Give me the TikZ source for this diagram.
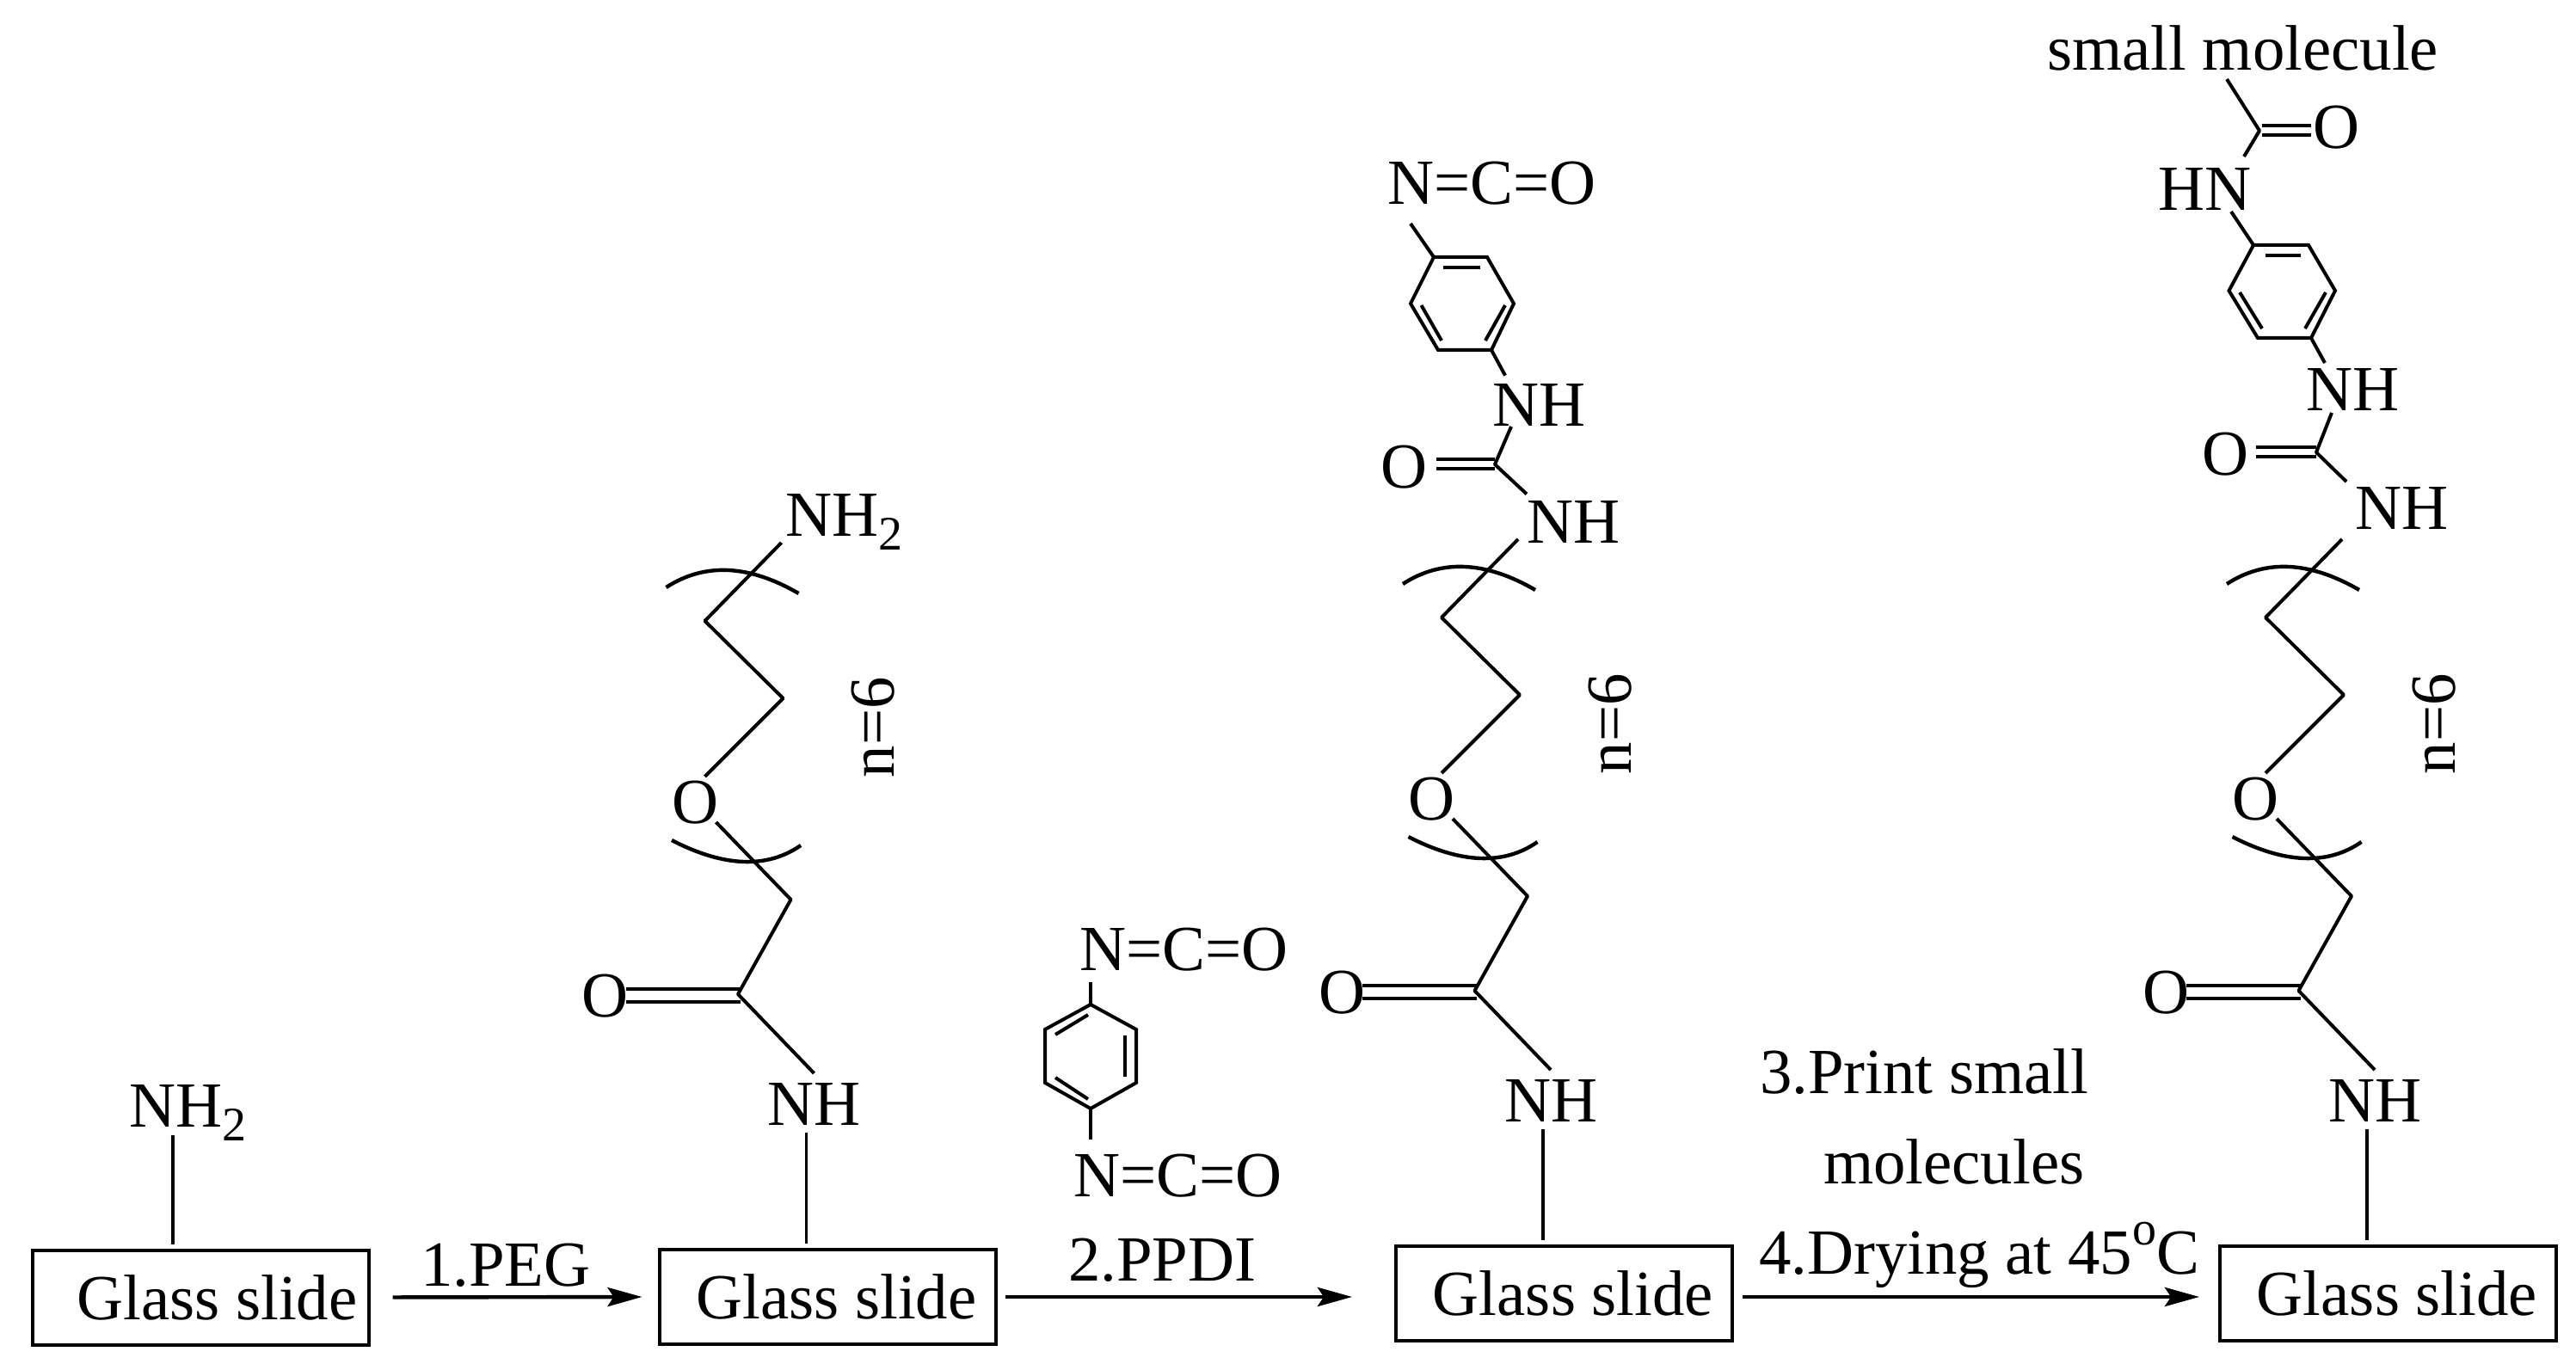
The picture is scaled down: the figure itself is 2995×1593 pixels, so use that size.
\documentclass[tikz,border=0pt]{standalone}
\usepackage{fontspec}
\setmainfont{Liberation Serif}
\usetikzlibrary{arrows.meta}
\tikzset{
  atom/.style={anchor=base west,inner sep=0pt,outer sep=0pt,text=black},
  box/.style={draw=black,line width=2pt,minimum width=195.5pt,minimum height=55pt,inner sep=0pt,outer sep=0pt},
  bond/.style={draw=black,line width=2pt},
  thinbond/.style={draw=black,line width=1.6pt},
  brk/.style={draw=black,line width=2.2pt},
  flow/.style={draw=black,line width=2.2pt,-{Stealth[length=20pt,width=11pt,inset=3.5pt]}}
}
\newcommand{\subtwo}{\raisebox{-8pt}{\fontsize{28pt}{30pt}\selectfont 2}}
\newcommand{\pegarm}[3]{%
\begin{scope}[shift={(#2,#3)}]
  \node[box] (#1box) at (1818.5,1504) {\hspace{10.5pt}Glass slide};
  \node[atom] (#1nh) at (1749,1304) {NH};
  \node[atom] (#1oc) at (1533,1178) {O};
  \node[atom] (#1oe) at (1637.5,953) {O};
  \node[atom,rotate=90] (#1n) at (1896,900) {n=6};
  \coordinate (#1a) at (1794,1313);
  \coordinate (#1c) at (1714.5,1152);
  \coordinate (#1d1) at (1584,1145.6);
  \coordinate (#1d2) at (1717,1145.6);
  \coordinate (#1d3) at (1584,1161);
  \coordinate (#1d4) at (1717,1161);
  \coordinate (#1e) at (1803,1244);
  \coordinate (#1f) at (1776,1042);
  \coordinate (#1g) at (1689,952);
  \coordinate (#1h) at (1676,899);
  \coordinate (#1i) at (1767,808);
  \coordinate (#1j) at (1676,718);
  \coordinate (#1k) at (1765,627);
  \coordinate (#1u0) at (1631,679);
  \coordinate (#1ua) at (1675.7,650);
  \coordinate (#1ub) at (1727,652.3);
  \coordinate (#1u1) at (1785,686);
  \coordinate (#1l0) at (1637.5,973);
  \coordinate (#1la) at (1698.2,1004.3);
  \coordinate (#1lb) at (1748.2,1006.3);
  \coordinate (#1l1) at (1787.5,979);
  \draw[thinbond,shorten >=3.5pt] (#1a) -- (#1a |- #1box.north);
  \draw[bond] (#1d1) -- (#1d2);
  \draw[bond] (#1d3) -- (#1d4);
  \draw[bond,line join=bevel] (#1e) -- (#1c) -- (#1f) -- (#1g);
  \draw[bond,line join=bevel] (#1h) -- (#1i) -- (#1j) -- (#1k);
  \draw[brk] (#1u0) .. controls (#1ua) and (#1ub) .. (#1u1);
  \draw[brk] (#1l0) .. controls (#1la) and (#1lb) .. (#1l1);
\end{scope}}
\begin{document}
\begin{tikzpicture}[x=0.5pt,y=-0.5pt,font=\fontsize{37.4pt}{44pt}\selectfont,line join=miter]
\useasboundingbox (0,0) rectangle (2995,1593);
\fill[white] (0,0) rectangle (2995,1593);

% step 1 : amino slide
\node[box] (b1) at (233,1508.5) {\hspace{19.5pt}Glass slide};
\node[atom] (nh1) at (150,1310) {NH\subtwo};
\coordinate (nh1a) at (201,1320);
\draw[thinbond,shorten >=3.5pt] (nh1a) -- (nh1a |- b1.north);

% arms
\pegarm{m}{-856.5}{4}
\pegarm{p}{0}{0}
\pegarm{q}{958}{0}

% arm 2 end
\node[atom] (m2) at (913,624) {NH\subtwo};

% arm 3 urea and ring
\node[atom] (pnco) at (1613,237.5) {N=C=O};
\node[atom] (pnh2) at (1735,495.5) {NH};
\node[atom] (pnh3) at (1775,632) {NH};
\node[atom] (pco) at (1605.5,568) {O};
\coordinate (pr0) at (1640,260);
\coordinate (pr1) at (1667,299);
\coordinate (pr2) at (1729,299);
\coordinate (pr3) at (1760,353);
\coordinate (pr4) at (1734,407);
\coordinate (pr5) at (1672,407);
\coordinate (pr6) at (1640,353);
\coordinate (pi1) at (1678,311);
\coordinate (pi2) at (1721,311);
\coordinate (pi3) at (1652.5,355);
\coordinate (pi4) at (1676,396);
\coordinate (pi5) at (1750,355);
\coordinate (pi6) at (1727,396);
\coordinate (ps1) at (1750,436.6);
\coordinate (ps2) at (1757,496);
\coordinate (puc) at (1738,540);
\coordinate (ps3) at (1775,574.5);
\coordinate (pd1) at (1670,534);
\coordinate (pd2) at (1738,534);
\coordinate (pd3) at (1670,545);
\coordinate (pd4) at (1738,545);
\draw[bond] (pr0) -- (pr1);
\draw[bond] (pr1) -- (pr2) -- (pr3) -- (pr4) -- (pr5) -- (pr6) -- cycle;
\draw[bond] (pi1) -- (pi2);
\draw[bond] (pi3) -- (pi4);
\draw[bond] (pi5) -- (pi6);
\draw[bond] (pr4) -- (ps1);
\draw[bond,line join=bevel] (ps2) -- (puc) -- (ps3);
\draw[bond] (pd1) -- (pd2);
\draw[bond] (pd3) -- (pd4);

% arm 4 urea, ring, small molecule
\node[atom] (sm) at (2380,82) {small molecule};
\node[atom] (qco1) at (2689.5,173) {O};
\node[atom] (qhn) at (2509,245) {HN};
\node[atom] (qnh2) at (2681,478) {NH};
\node[atom] (qco2) at (2560.5,553) {O};
\node[atom] (qnh3) at (2738,616) {NH};
\coordinate (qa) at (2589,92);
\coordinate (qb) at (2627,152);
\coordinate (qe) at (2609,182);
\coordinate (qf1) at (2630,146);
\coordinate (qf2) at (2687,146);
\coordinate (qf3) at (2630,157);
\coordinate (qf4) at (2687,157);
\coordinate (qr0) at (2594,246);
\coordinate (qr1) at (2620,285);
\coordinate (qr2) at (2684,285);
\coordinate (qr3) at (2715,338);
\coordinate (qr4) at (2687,393);
\coordinate (qr5) at (2625,393);
\coordinate (qr6) at (2591.5,338);
\coordinate (qi1) at (2634,297);
\coordinate (qi2) at (2675,297);
\coordinate (qi3) at (2604,340);
\coordinate (qi4) at (2630,382);
\coordinate (qi5) at (2704,340);
\coordinate (qi6) at (2680,382);
\coordinate (qs1) at (2703,422);
\coordinate (qs2) at (2711,480);
\coordinate (quc) at (2693,526);
\coordinate (qs3) at (2728,560);
\coordinate (qd1) at (2623,520);
\coordinate (qd2) at (2693,520);
\coordinate (qd3) at (2623,531);
\coordinate (qd4) at (2693,531);
\draw[bond,line join=bevel] (qa) -- (qb) -- (qe);
\draw[bond] (qf1) -- (qf2);
\draw[bond] (qf3) -- (qf4);
\draw[bond] (qr0) -- (qr1);
\draw[bond] (qr1) -- (qr2) -- (qr3) -- (qr4) -- (qr5) -- (qr6) -- cycle;
\draw[bond] (qi1) -- (qi2);
\draw[bond] (qi3) -- (qi4);
\draw[bond] (qi5) -- (qi6);
\draw[bond] (qr4) -- (qs1);
\draw[bond,line join=bevel] (qs2) -- (quc) -- (qs3);
\draw[bond] (qd1) -- (qd2);
\draw[bond] (qd3) -- (qd4);

% PPDI reagent
\node[atom] (nco1) at (1255,1128) {N=C=O};
\node[atom] (nco2) at (1248,1391.5) {N=C=O};
\coordinate (ra) at (1268,1142);
\coordinate (r1) at (1268,1168);
\coordinate (r2) at (1321,1197);
\coordinate (r3) at (1321,1259);
\coordinate (r4) at (1268,1289);
\coordinate (r5) at (1215,1259);
\coordinate (r6) at (1215,1197);
\coordinate (rb) at (1268,1324.5);
\coordinate (ri1) at (1227,1203);
\coordinate (ri2) at (1265,1180);
\coordinate (ri3) at (1308,1204);
\coordinate (ri4) at (1308,1251.5);
\coordinate (ri5) at (1227,1253);
\coordinate (ri6) at (1265,1278);
\draw[bond] (ra) -- (r1);
\draw[bond] (r1) -- (r2) -- (r3) -- (r4) -- (r5) -- (r6) -- cycle;
\draw[bond] (r4) -- (rb);
\draw[bond] (ri1) -- (ri2);
\draw[bond] (ri3) -- (ri4);
\draw[bond] (ri5) -- (ri6);

% reaction arrows and labels
\draw[flow,shorten <=14pt,shorten >=10pt] (b1.east) -- (mbox.west);
\draw[flow,shorten <=5.5pt,shorten >=25.5pt] (mbox.east) -- (mbox.east -| pbox.west);
\draw[flow,shorten <=6pt,shorten >=12pt] (pbox.east |- mbox.east) -- (qbox.west |- mbox.east);
\node[atom] (t1) at (489,1495) {1.PEG};
\node[atom] (t2) at (1242,1489) {2.PPDI};
\node[atom] (t3) at (2046,1271.5) {3.Print small};
\node[atom] (t4) at (2120,1376) {molecules};
\node[atom] (t5) at (2045,1481.5) {4.Drying at 45\raisebox{17pt}{\fontsize{28pt}{30pt}\selectfont o}C};
\end{tikzpicture}
\end{document}
